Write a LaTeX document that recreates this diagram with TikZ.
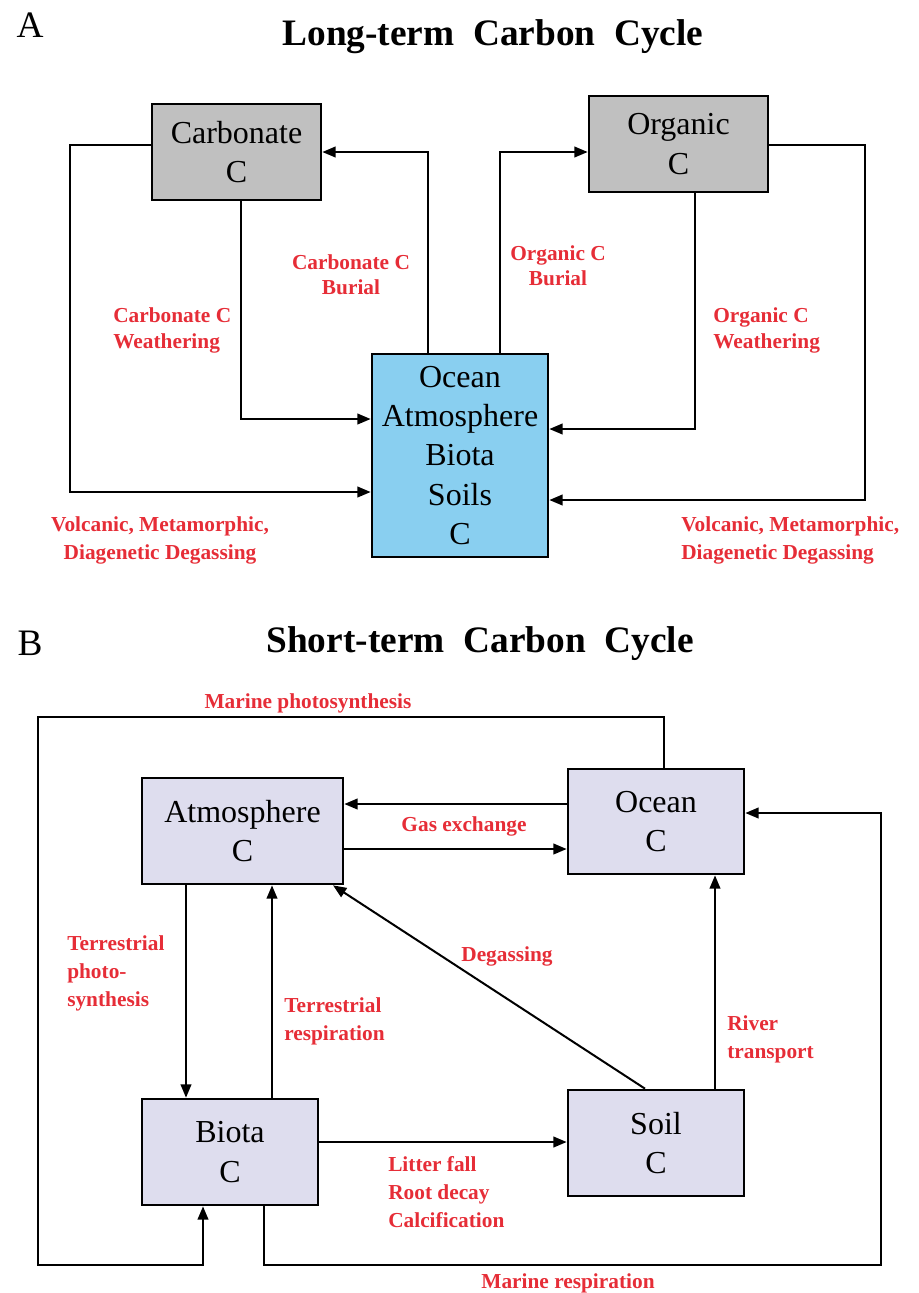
\documentclass[tikz,border=0pt]{standalone}
\usepackage{fontspec}
\setmainfont{Liberation Serif}
\usetikzlibrary{calc,arrows.meta}

\definecolor{fluxred}{RGB}{230,45,55}
\definecolor{resgray}{RGB}{192,192,192}
\definecolor{resblue}{RGB}{137,207,240}
\definecolor{reslav}{RGB}{222,221,238}

\tikzset{
	res/.style={draw=black,line width=2pt,inner sep=0pt,align=center,font=\fontsize{24}{29.5}\selectfont},
	flux/.style={text=fluxred,inner sep=0pt,align=left,font=\bfseries\fontsize{16}{21}\selectfont},
	fluxtight/.style={flux,font=\bfseries\fontsize{16}{19}\selectfont},
	link/.style={line width=1.5pt},
	arr/.style={link,-{Triangle[length=10pt,width=8pt]}},
	ttl/.style={font=\bfseries\fontsize{28}{34}\selectfont},
	panel/.style={font=\fontsize{28}{34}\selectfont}
}

\begin{document}
\begin{tikzpicture}[x=0.75pt,y=-0.75pt]
\useasboundingbox (0,0) rectangle (918,1293);

%panel A: long-term cycle
\node[panel](pa) at (30,25){A};
\node[ttl](ta) at (493,37){Long-term\ \ Carbon\ \ Cycle};

\node[res,fill=resgray,minimum width=169*0.75pt,minimum height=96*0.75pt](carb) at (236.5,152){Carbonate\\C};
\node[res,fill=resgray,minimum width=179*0.75pt,minimum height=96*0.75pt](org) at (678.5,144){Organic\\C};
\node[res,fill=resblue,minimum width=176*0.75pt,minimum height=203*0.75pt](surf) at (460,455.5){Ocean\\Atmosphere\\Biota\\Soils\\C};

\coordinate (cwt) at (70,145);
\coordinate (cwb) at (70,492);
\coordinate (cww) at (241,419);
\coordinate (cbur) at (428,152);
\coordinate (obur) at (500,152);
\coordinate (oww) at (695,429);
\coordinate (owt) at (865,145);
\coordinate (owb) at (865,500);

\draw[arr](carb.west |- cwt)--(cwt)--(cwb)--(surf.west |- cwb);
\draw[arr](carb.south -| cww)--(cww)--(surf.west |- cww);
\draw[arr](surf.north -| cbur)--(cbur)--(carb.east |- cbur);
\draw[arr](surf.north -| obur)--(obur)--(org.west |- obur);
\draw[arr](org.south -| oww)--(oww)--(surf.east |- oww);
\draw[arr](org.east |- owt)--(owt)--(owb)--(surf.east |- owb);

%add annotations
\node[fluxtight,anchor=west](lcw) at (113,330.5){Carbonate C\\Weathering};
\node[fluxtight,align=center](lcb) at (351,274.5){Carbonate C\\Burial};
\node[fluxtight,align=center](lob) at (558,265.5){Organic C\\Burial};
\node[fluxtight,anchor=west](low) at (713,330.5){Organic C\\Weathering};
\node[flux,align=center](lvl) at (160,540){Volcanic, Metamorphic,\\Diagenetic Degassing};
\node[flux,anchor=west](lvr) at (681,540){Volcanic, Metamorphic,\\Diagenetic Degassing};

%panel B: short-term cycle
\node[panel](pb) at (30,643){B};
\node[ttl](tb) at (480,644){Short-term\ \ Carbon\ \ Cycle};

\node[res,fill=reslav,minimum width=201*0.75pt,minimum height=106*0.75pt](atm) at (242.5,831){Atmosphere\\C};
\node[res,fill=reslav,minimum width=176*0.75pt,minimum height=105*0.75pt](ocean) at (656,821.5){Ocean\\C};
\node[res,fill=reslav,minimum width=176*0.75pt,minimum height=106*0.75pt](biota) at (230,1152){Biota\\C};
\node[res,fill=reslav,minimum width=176*0.75pt,minimum height=106*0.75pt](soil) at (656,1143){Soil\\C};

\coordinate (mpa) at (664,717);
\coordinate (mpb) at (38,717);
\coordinate (mpc) at (38,1265);
\coordinate (mpd) at (203,1265);
\coordinate (mra) at (264,1265);
\coordinate (mrb) at (881,1265);
\coordinate (mrc) at (881,813);
\coordinate (gxa) at (0,804);
\coordinate (gxb) at (0,849);
\coordinate (tps) at (186,0);
\coordinate (trs) at (272,0);
\coordinate (dgs) at (645,0);
\coordinate (dge) at (333,0);
\coordinate (rvt) at (715,0);
\coordinate (ltf) at (0,1142);

\draw[arr](ocean.north -| mpa)--(mpa)--(mpb)--(mpc)--(mpd)--(biota.south -| mpd);
\draw[arr](biota.south -| mra)--(mra)--(mrb)--(mrc)--(ocean.east |- mrc);
\draw[arr](ocean.west |- gxa)--(atm.east |- gxa);
\draw[arr](atm.east |- gxb)--(ocean.west |- gxb);
\draw[arr](atm.south -| tps)--(biota.north -| tps);
\draw[arr](biota.north -| trs)--(atm.south -| trs);
\draw[arr](soil.north -| dgs)--(atm.south -| dge);
\draw[arr](soil.north -| rvt)--(ocean.south -| rvt);
\draw[arr](biota.east |- ltf)--(soil.west |- ltf);

%add annotations
\node[flux,align=center](lmp) at (308,703){Marine photosynthesis};
\node[flux,align=center](lgx) at (464,826){Gas exchange};
\node[flux,anchor=west](ltp) at (67,973.5){Terrestrial\\photo-\\synthesis};
\node[flux,anchor=west](ltr) at (284,1021){Terrestrial\\respiration};
\node[flux,align=center](ldg) at (507,956){Degassing};
\node[flux,anchor=west](lrv) at (727,1039){River\\transport};
\node[flux,anchor=west](llf) at (388,1192){Litter fall\\Root decay\\Calcification};
\node[flux,align=center](lmr) at (568,1283){Marine respiration};
\end{tikzpicture}
\end{document}
